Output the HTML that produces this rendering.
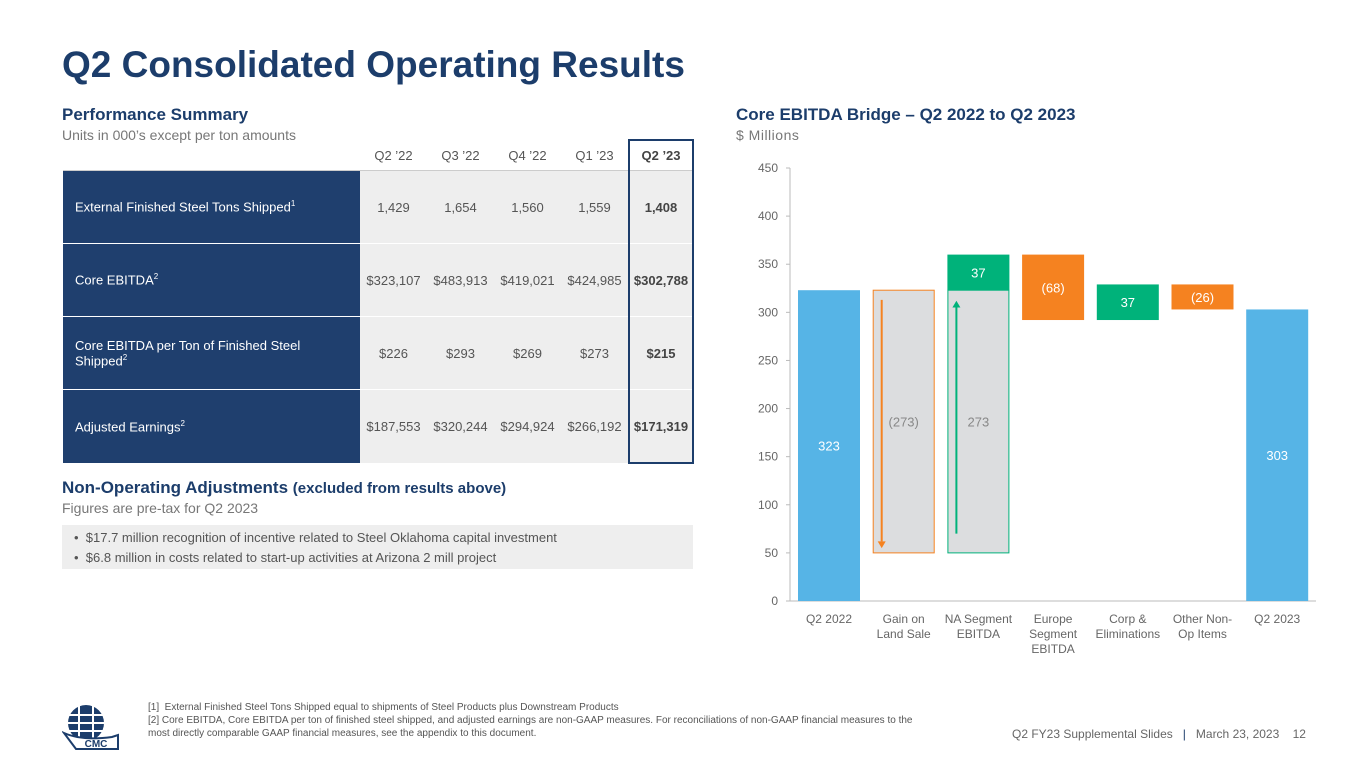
<!DOCTYPE html>
<html><head><meta charset="utf-8"><style>
body{margin:0;width:1365px;height:768px;background:#fff;font-family:"Liberation Sans",sans-serif;position:relative;overflow:hidden}
.a{position:absolute}
h1{position:absolute;left:62px;top:44px;margin:0;font-size:37px;font-weight:bold;color:#1c3d6b}
.sec{font-size:17px;font-weight:bold;color:#1c3d6b}
.sub{font-size:14px;color:#777}
table{position:absolute;left:63px;top:139px;border-collapse:collapse;font-size:13px}
td{padding:0;height:72px;border-bottom:1px solid #fff;text-align:center;color:#555;background:#eeeeee}
td.l{background:#1f3f6e;color:#fff;text-align:left;padding-left:12px;width:285px;border-bottom:1px solid #fff}
tr.h td{height:29px;background:transparent;border-bottom:1px solid #ccc}
td.q{font-weight:bold;color:#444;border-left:2px solid #1c3d6b;border-right:2px solid #1c3d6b}
tr:last-child td.q{border-bottom:2px solid #1c3d6b}
tr.h td.q{border-top:2px solid #1c3d6b}
sup{font-size:8px}
</style></head><body>
<h1>Q2 Consolidated Operating Results</h1>
<div class="a sec" style="left:62px;top:105px">Performance Summary</div>
<div class="a sub" style="left:62px;top:127px">Units in 000’s except per ton amounts</div>
<table>
<tr class="h"><td style="width:297px"></td><td style="width:67px">Q2 ’22</td><td style="width:67px">Q3 ’22</td><td style="width:67px">Q4 ’22</td><td style="width:67px">Q1 ’23</td><td class="q" style="width:62px">Q2 ’23</td></tr>
<tr><td class="l">External Finished Steel Tons Shipped<sup>1</sup></td><td>1,429</td><td>1,654</td><td>1,560</td><td>1,559</td><td class="q">1,408</td></tr>
<tr><td class="l">Core EBITDA<sup>2</sup></td><td>$323,107</td><td>$483,913</td><td>$419,021</td><td>$424,985</td><td class="q">$302,788</td></tr>
<tr><td class="l">Core EBITDA per Ton of Finished Steel<br>Shipped<sup>2</sup></td><td>$226</td><td>$293</td><td>$269</td><td>$273</td><td class="q">$215</td></tr>
<tr><td class="l">Adjusted Earnings<sup>2</sup></td><td>$187,553</td><td>$320,244</td><td>$294,924</td><td>$266,192</td><td class="q">$171,319</td></tr>
</table>
<div class="a sec" style="left:62px;top:478px">Non-Operating Adjustments <span style="font-size:15px">(excluded from results above)</span></div>
<div class="a sub" style="left:62px;top:500px">Figures are pre-tax for Q2 2023</div>
<div class="a" style="left:62px;top:525px;width:631px;height:44px;background:#eeeeee;font-size:13px;color:#555;line-height:20px;padding-top:3px;box-sizing:border-box">
<div style="padding-left:12px">•&nbsp; $17.7 million recognition of incentive related to Steel Oklahoma capital investment</div>
<div style="padding-left:12px">•&nbsp; $6.8 million in costs related to start-up activities at Arizona 2 mill project</div></div>
<div class="a sec" style="left:736px;top:105px">Core EBITDA Bridge – Q2 2022 to Q2 2023</div>
<div class="a sub" style="left:736px;top:127px;letter-spacing:0.5px">$ Millions</div>
<svg class="a" style="left:0;top:0" width="1365" height="768" id="chart"></svg>
<div class="a" style="left:148px;top:701px;font-size:10px;color:#555;line-height:13px">[1]&nbsp; External Finished Steel Tons Shipped equal to shipments of Steel Products plus Downstream Products<br>[2] Core EBITDA, Core EBITDA per ton of finished steel shipped, and adjusted earnings are non-GAAP measures. For reconciliations of non-GAAP financial measures to the<br>most directly comparable GAAP financial measures, see the appendix to this document.</div>
<svg class="a" style="left:62px;top:703px" width="60" height="48">
<circle cx="24" cy="20" r="18" fill="#1c3d6b"/>
<g stroke="#fff" stroke-width="2"><line x1="4" y1="12" x2="44" y2="12"/><line x1="4" y1="20" x2="44" y2="20"/><line x1="6" y1="28" x2="42" y2="28"/><line x1="17" y1="2" x2="17" y2="38"/><line x1="31" y1="2" x2="31" y2="38"/></g>
<path d="M2 30 Q20 38 50 34 L56 32 L56 46 L14 46 Z" fill="#fff" stroke="#1c3d6b" stroke-width="2"/>
<text x="34" y="44" font-size="10" font-weight="bold" fill="#1c3d6b" text-anchor="middle" font-family="Liberation Sans">CMC</text></svg>
<div class="a" style="left:1012px;top:727px;font-size:12px;color:#666">Q2 FY23 Supplemental Slides &nbsp;&nbsp;<span style="color:#1c3d6b">|</span>&nbsp;&nbsp; March 23, 2023 &nbsp;&nbsp; 12</div>
<script>
const categories=["Q2 2022","Gain on\nLand Sale","NA Segment\nEBITDA","Europe\nSegment\nEBITDA","Corp &\nEliminations","Other Non-\nOp Items","Q2 2023"];
const barStarts=[0,50,323,360,292,329,0];
const barEnds=[323,323,360,292,329,303,303];
const barLabels=["323","(273)","37","(68)","37","(26)","303"];
const barKinds=["total","ghost-down","up","down","up","down","total"];
const naGhost=[50,323];
const naGhostLabel="273";
const yTicks=[0,50,100,150,200,250,300,350,400,450];
const NS="http://www.w3.org/2000/svg",svg=document.getElementById('chart');
const y=v=>601-v*(433/450), xc=i=>829+i*74.7, W=62;
function mk(t,a,p){const e=document.createElementNS(NS,t);for(const k in a)e.setAttribute(k,a[k]);(p||svg).appendChild(e);return e;}
let ax=mk('line',{x1:790,y1:168,x2:790,y2:601,stroke:'#bbb'});

let bx=mk('line',{x1:790,y1:601,x2:1316,y2:601,stroke:'#bbb'});

yTicks.forEach(v=>{mk('line',{x1:786,y1:y(v),x2:790,y2:y(v),stroke:'#bbb'});
 const t=mk('text',{x:778,y:y(v)+4,'text-anchor':'end','font-size':12,fill:'#666','font-family':'Liberation Sans'});t.textContent=v;
 });
const col={total:'#56b4e6',up:'#00b27a',down:'#f58220'};
function rect(i,a,b,fill,stroke){const top=y(Math.max(a,b)),bot=y(Math.min(a,b));
 return mk('rect',{x:xc(i)-W/2+(stroke?0.5:0),y:top,width:W-(stroke?1:0),height:bot-top,fill,stroke:stroke||'none'});}
function lbl(i,v,txt,c){const t=mk('text',{x:xc(i),y:y(v)+5,'text-anchor':'middle','font-size':13,fill:c,'font-family':'Liberation Sans'});t.textContent=txt;return t;}
categories.forEach((c,i)=>{
 const k=barKinds[i];let r;
 if(k==='ghost-down'){r=rect(i,barStarts[i],barEnds[i],'#dcdddf','#f58220');
   mk('line',{x1:xc(i)-22,y1:y(barEnds[i]-10),x2:xc(i)-22,y2:y(barStarts[i]+12),stroke:'#f58220','stroke-width':2});
   mk('path',{d:`M${xc(i)-26} ${y(barStarts[i]+12)} L${xc(i)-18} ${y(barStarts[i]+12)} L${xc(i)-22} ${y(barStarts[i]+5)}Z`,fill:'#f58220'});
   lbl(i,(barStarts[i]+barEnds[i])/2,barLabels[i],'#888');}
 else{
   if(i===2){const g=rect(i,naGhost[0],naGhost[1],'#dcdddf','#00b27a');
     mk('line',{x1:xc(i)-22,y1:y(naGhost[0]+20),x2:xc(i)-22,y2:y(naGhost[1]-18),stroke:'#00b27a','stroke-width':2});
     mk('path',{d:`M${xc(i)-26} ${y(naGhost[1]-18)} L${xc(i)-18} ${y(naGhost[1]-18)} L${xc(i)-22} ${y(naGhost[1]-11)}Z`,fill:'#00b27a'});
     lbl(i,(naGhost[0]+naGhost[1])/2,naGhostLabel,'#888');}
   r=rect(i,barStarts[i],barEnds[i],col[k]);
   const mid=k==='total'?barEnds[i]*0.5:(barStarts[i]+barEnds[i])/2;
   lbl(i,mid,barLabels[i],'#fff');}
 
 c.split('\n').forEach((ln,j)=>{const t=mk('text',{x:xc(i),y:623+j*15,'text-anchor':'middle','font-size':12,fill:'#666','font-family':'Liberation Sans'});t.textContent=ln;
  });
});
</script>
</body></html>
